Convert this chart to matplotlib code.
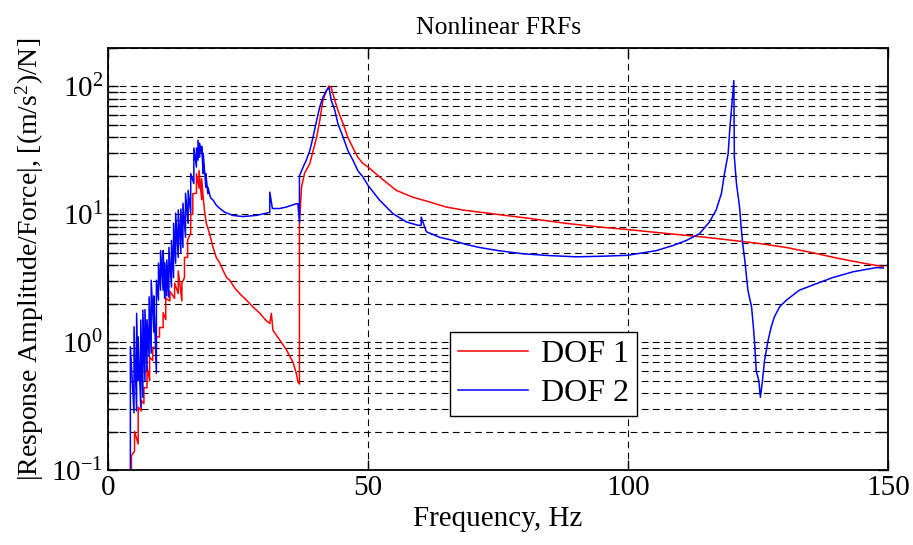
import numpy as np
import matplotlib
matplotlib.use('Agg')
import matplotlib.pyplot as plt
from matplotlib.ticker import LogLocator, NullFormatter, FixedLocator

plt.rcParams['font.family'] = ['Liberation Serif', 'DejaVu Serif']
plt.rcParams['mathtext.fontset'] = 'custom'
plt.rcParams['mathtext.rm'] = 'Liberation Serif'
plt.rcParams['mathtext.it'] = 'Liberation Serif:italic'

# DOF 1 (red); repeated frequencies are the vertical jumps
dof1_freq = [4.5, 4.5, 5.1, 5.1, 5.8, 5.8, 6.4, 6.4, 6.9, 6.9, 7.5, 7.5, 8.0, 8.0,
             8.6, 8.6, 9.3, 9.3, 9.9, 9.9, 10.6, 10.6, 11.1, 11.1, 11.9, 11.9,
             12.8, 12.8, 13.5, 13.5, 14.2, 14.2, 14.7, 14.7, 15.3, 15.3, 15.9, 15.9,
             16.3, 16.3, 17.0, 17.0, 17.5, 17.5, 18.0, 18.0,
             18.3, 18.6, 18.9, 19.5, 20.2, 20.8, 21.5, 22.1, 22.8, 23.4, 24.4, 25.3,
             26.6, 27.9, 29.2, 30.3, 31.1, 31.4, 31.7, 33.0, 34.3, 35.6, 36.2, 36.5,
             36.8, 36.8, 37.2, 37.8, 38.8, 39.3, 40.1, 40.7, 41.3, 42.0, 42.5, 42.9,
             43.6, 44.2, 45.2, 46.1, 47.1, 48.0, 49.0, 50.0, 52.2, 55.4, 58.6, 61.8,
             65.0, 68.2, 71.4, 80.0, 88.0, 94.5, 99.9, 104.1, 107.9, 111.8, 115.0,
             120.1, 125.3, 130.4, 135.5, 140.6, 145.8, 149.0]
dof1_amp = [0.1, 0.13, 0.14, 0.2, 0.16, 0.31, 0.29, 0.35, 0.33, 0.44, 0.44, 0.64, 0.5, 0.76,
            0.72, 0.91, 0.91, 1.1, 1.1, 1.3, 1.3, 1.7, 1.5, 2.2, 2.1, 2.5,
            2.2, 2.9, 2.4, 3.6, 2.1, 2.9, 3.2, 4.6, 4.6, 6.3, 7.1, 10.0,
            10.0, 14.5, 14.6, 20.8, 16.0, 22.0, 13.0, 19.0,
            13.5, 10.2, 8.5, 7.1, 5.5, 4.6, 4.15, 3.65, 3.2, 3.05, 2.64, 2.4,
            2.13, 1.88, 1.68, 1.49, 1.4, 1.68, 1.24, 1.04, 0.87, 0.69, 0.57, 0.49,
            0.47, 8.5, 16.4, 21.0, 25.0, 30.0, 40.0, 54.0, 78.0, 93.0, 101.0, 98.0,
            78.0, 65.0, 51.0, 40.0, 33.0, 28.0, 25.0, 23.4, 19.6, 15.4, 13.6, 12.5,
            11.4, 10.8, 10.4, 9.4, 8.5, 7.95, 7.6, 7.3, 7.05, 6.8, 6.6,
            6.25, 5.9, 5.5, 5.0, 4.5, 4.1, 3.9]

# DOF 2 (blue)
dof2_freq = [4.3, 4.3, 5.0, 5.0, 5.5, 5.5, 5.8, 5.8, 6.3, 6.3, 6.7, 6.7, 7.1, 7.1,
             7.5, 7.5, 7.9, 7.9, 8.3, 8.3, 8.8, 8.8, 9.3, 9.3, 9.7, 9.7, 10.1, 10.1,
             10.6, 10.6, 10.9, 10.9, 11.3, 11.3, 11.7, 11.7, 12.2, 12.2, 12.6, 12.6,
             13.0, 13.0, 13.5, 13.5, 14.0, 14.0, 14.4, 14.4, 14.9, 14.9, 15.4, 15.4,
             15.9, 15.9, 16.5, 16.5, 17.0, 17.0, 17.3, 17.3, 17.6, 17.6, 18.0, 18.0,
             18.3, 18.3, 18.8, 18.8, 19.2, 19.2,
             19.7, 20.2, 20.8, 21.5, 22.4, 24.0, 25.9, 28.5, 30.8, 31.1, 31.1, 31.6,
             33.0, 34.3, 36.2, 36.5, 36.8, 36.8, 37.5, 38.1, 38.8, 39.4, 40.1, 40.7,
             41.3, 42.0, 42.5, 42.9, 43.6, 44.2, 45.2, 46.1, 47.1, 48.0, 49.0, 50.0,
             52.2, 54.8, 57.4, 59.6, 60.2, 60.2, 61.2, 63.8, 66.3, 68.9, 71.4, 75.0,
             80.0, 85.0, 90.0, 95.0, 99.9, 102.8, 105.4, 108.6, 111.2, 113.7, 115.6,
             116.9, 117.9, 118.5, 119.2, 119.5, 120.0, 120.3, 120.4, 120.8, 121.4,
             121.7, 122.0, 122.4, 123.0, 123.7, 124.0, 124.3, 124.6, 125.1, 125.4,
             125.8, 126.2, 126.9, 127.5, 128.1, 129.1, 130.4, 132.9, 136.2, 139.3,
             143.2, 147.7, 149.0]
dof2_amp = [0.1, 0.92, 0.28, 1.32, 0.29, 1.68, 0.5, 1.1, 0.31, 1.49, 0.37, 1.78, 0.5, 1.8,
            0.6, 1.5, 0.77, 2.26, 0.82, 3.05, 1.2, 2.3, 0.57, 3.05, 2.13, 4.15, 2.55, 5.2,
            2.55, 5.2, 2.2, 4.2, 2.3, 4.4, 2.25, 5.5, 2.7, 6.25, 3.2, 8.5,
            4.15, 10.2, 4.6, 10.8, 5.0, 11.0, 5.5, 12.2, 6.6, 14.6, 8.5, 15.4,
            10.2, 20.8, 17.4, 33.0, 23.4, 33.0, 26.5, 38.0, 28.0, 36.0, 30.0, 34.0,
            20.8, 30.0, 16.3, 20.8, 14.5, 16.3,
            13.5, 12.9, 11.8, 11.1, 10.4, 9.8, 9.6, 9.8, 10.3, 10.3, 14.9, 11.1,
            11.1, 11.4, 12.1, 12.1, 8.7, 20.0, 23.4, 26.4, 31.6, 40.0, 54.0, 69.0,
            82.0, 93.0, 98.0, 78.0, 65.0, 51.0, 40.0, 31.6, 26.4, 22.0, 19.6, 16.8,
            12.9, 10.1, 8.7, 8.2, 8.2, 9.5, 7.3, 6.6, 6.25, 5.8, 5.5, 5.2,
            4.9, 4.75, 4.65, 4.7, 4.78, 5.0, 5.2, 5.7, 6.25, 7.05, 8.7,
            10.8, 14.5, 20.8, 29.7, 45.0, 78.0, 111.0, 28.0, 17.4, 11.4,
            7.95, 5.9, 4.4, 2.55, 1.89, 1.4, 0.98, 0.6, 0.5, 0.37,
            0.5, 0.72, 1.04, 1.32, 1.58, 1.89, 2.13, 2.55, 2.87, 3.2,
            3.55, 3.83, 3.8]

fig = plt.figure(figsize=(9.13, 5.45), dpi=100)
ax = fig.add_axes([0.1183, 0.1376, 0.8547, 0.7744])

ax.plot(dof1_freq, dof1_amp, color='red', lw=1.1, label='DOF 1')
ax.plot(dof2_freq, dof2_amp, color='blue', lw=1.1, label='DOF 2')

ax.set_yscale('log')
ax.set_xlim(0, 150)
ax.set_ylim(0.1, 200)
ax.xaxis.set_major_locator(FixedLocator([0, 50, 100, 150]))
ax.yaxis.set_major_locator(LogLocator(base=10, numticks=10))
ax.yaxis.set_minor_locator(LogLocator(base=10, subs=np.arange(2, 10), numticks=10))
ax.yaxis.set_minor_formatter(NullFormatter())

grid_style = dict(color='black', linestyle=(0, (6, 4)), linewidth=0.8)
ax.grid(True, which='major', axis='both', **grid_style)
ax.grid(True, which='minor', axis='y', **grid_style)

ax.tick_params(which='both', direction='in', top=True, right=True, labelsize=21,
               length=7, width=1)
for s in ax.spines.values():
    s.set_linewidth(1.3)

ax.set_xlabel('Frequency, Hz', fontsize=21)
ax.set_ylabel(r'|Response Amplitude/Force|, [(m/s$^2$)/N]', fontsize=20)
ax.set_title('Nonlinear FRFs', fontsize=18.5, pad=10)

leg = ax.legend(loc='lower left', bbox_to_anchor=(0.438, 0.128),
                fontsize=23, fancybox=False, edgecolor='black', framealpha=1,
                handlelength=2.2, handletextpad=0.4, borderpad=0.25,
                labelspacing=0.3, borderaxespad=0)
leg.get_frame().set_linewidth(1.0)

fig.savefig('out.png', dpi=100)
